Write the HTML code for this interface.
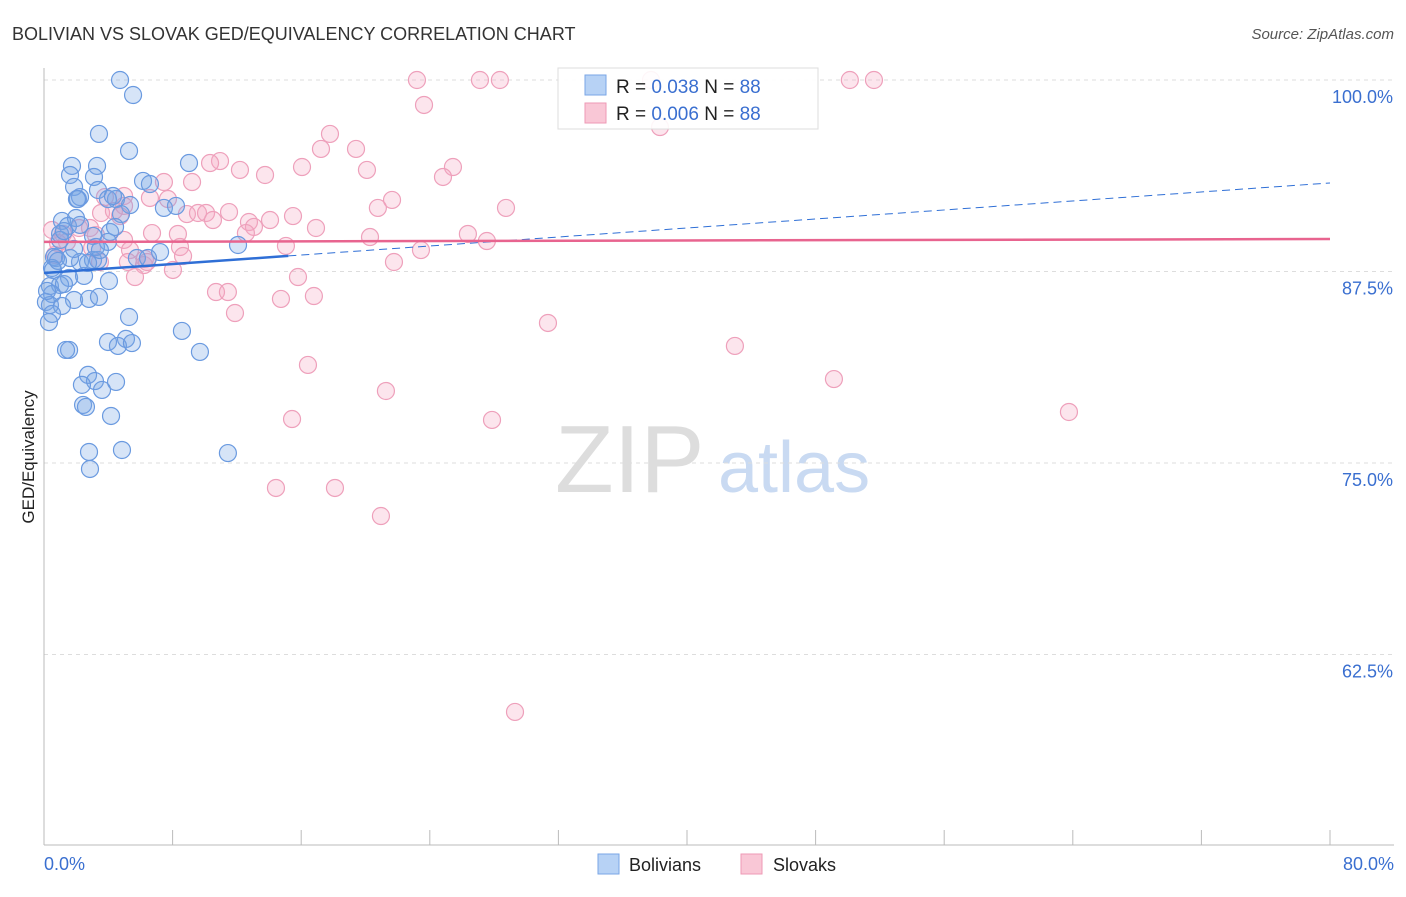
<!DOCTYPE html>
<html><head><meta charset="utf-8"><style>
body{margin:0;background:#fff;font-family:"Liberation Sans",sans-serif}
svg text{font-family:"Liberation Sans",sans-serif}
</style></head><body>
<svg id="chart" width="1406" height="892">
<text x="12" y="40" font-size="18" fill="#333">BOLIVIAN VS SLOVAK GED/EQUIVALENCY CORRELATION CHART</text>
<text x="1394" y="39" font-size="15" fill="#555" font-style="italic" text-anchor="end">Source: ZipAtlas.com</text>
<g>
<text x="555" y="492" font-size="96" fill="#ddd" font-family="Liberation Serif">ZIP</text>
<text x="718" y="492" font-size="72" fill="#c9daf2">atlas</text>
</g>
<g id="grid"></g>
<g id="axes"></g>
<g id="points"></g>
<g id="trends"></g>
<text transform="translate(34,457) rotate(-90)" font-size="17" fill="#222" text-anchor="middle">GED/Equivalency</text>
<g>
<rect x="558" y="68" width="260" height="61" fill="#fff" fill-opacity="0.9" stroke="#ddd"/>
<rect x="585" y="75" width="21" height="20" fill="#b7d2f5" stroke="#7aa6e6"/>
<text x="616" y="93" font-size="19" fill="#222">R = <tspan fill="#3a6fd0">0.038</tspan>   N = <tspan fill="#3a6fd0">88</tspan></text>
<rect x="585" y="103" width="21" height="20" fill="#f9c7d6" stroke="#ee9ab5"/>
<text x="616" y="120" font-size="19" fill="#222">R = <tspan fill="#3a6fd0">0.006</tspan>   N = <tspan fill="#3a6fd0">88</tspan></text>
</g>
<g>
<rect x="598" y="854" width="21" height="20" fill="#b7d2f5" stroke="#7aa6e6"/>
<text x="629" y="871" font-size="18" fill="#222">Bolivians</text>
<rect x="741" y="854" width="21" height="20" fill="#f9c7d6" stroke="#ee9ab5"/>
<text x="773" y="871" font-size="18" fill="#222">Slovaks</text>
</g>
</svg>
<script>
const yTicks=[100,87.5,75,62.5];
const yTickLabels=["100.0%","87.5%","75.0%","62.5%"];
const xTickVals=[0,8,16,24,32,40,48,56,64,72,80];
const blueX=[4.73,5.54,3.42,5.29,1.74,3.30,9.02,1.62,3.11,1.87,6.16,6.59,3.36,2.24,2.11,4.48,5.35,7.46,8.21,1.12,1.99,1.49,2.24,3.05,1.00,4.11,3.98,12.07,7.22,0.62,0.75,2.24,3.05,3.36,5.78,6.47,0.50,1.56,2.49,4.04,0.37,1.00,1.24,0.50,0.12,0.37,1.87,2.80,3.42,1.12,0.50,0.31,5.29,8.58,3.98,5.10,4.60,1.56,1.37,9.70,2.74,3.17,2.36,4.48,3.61,2.43,2.61,4.17,2.80,4.85,11.44,2.86,1.00,1.24,1.62,2.74,0.56,0.19,3.98,4.29,4.79,5.47,0.87,1.87,3.23,3.48,4.42,2.05];
const blueY=[100,99.02,96.48,95.37,94.39,94.39,94.58,93.80,93.67,93.02,93.41,93.21,92.82,92.36,92.23,92.23,91.84,91.65,91.78,90.80,90.99,90.47,90.54,89.82,89.95,90.08,89.43,89.23,88.77,88.45,88.38,88.12,88.25,88.25,88.38,88.38,87.73,87.08,87.21,86.88,86.55,86.62,86.68,86.03,85.51,85.31,85.64,85.71,85.84,85.25,84.73,84.20,84.53,83.62,82.90,83.10,82.64,82.38,82.38,82.25,80.75,80.35,80.10,80.29,79.77,78.79,78.66,78.07,75.72,75.85,75.65,74.61,89.56,90.14,88.38,88.06,87.60,86.23,92.23,92.43,91.25,82.83,88.19,88.97,89.10,88.90,90.41,92.23];
const pinkX=[23.2,27.12,28.36,37.76,50.13,51.63,23.64,38.32,17.79,17.23,19.41,10.95,16.05,12.19,25.44,24.82,20.09,13.75,7.46,9.21,3.79,4.98,7.71,3.55,4.73,8.89,9.58,10.08,10.51,11.51,12.75,13.06,14.06,15.49,21.65,20.77,28.74,16.92,0.50,1.18,2.18,3.23,4.98,6.72,8.33,1.43,2.99,5.35,8.46,12.56,15.05,20.28,26.37,27.55,23.45,0.68,3.48,5.22,6.22,6.28,6.41,8.02,21.77,8.65,5.66,15.80,10.70,11.44,14.74,16.79,11.88,31.35,42.98,16.42,49.14,21.27,63.76,15.43,27.87,14.43,18.10,20.96,29.30,4.98,6.59,2.86,10.33,4.35,0.87];
const pinkY=[100,100,100,100,100,100,98.37,96.93,96.48,95.50,95.50,94.71,94.32,94.13,94.32,93.67,94.13,93.80,93.34,93.34,92.36,92.43,92.23,91.32,91.12,91.25,91.32,91.32,90.86,91.38,90.73,90.41,90.86,91.12,92.17,91.65,91.65,90.34,90.21,89.95,90.34,89.88,89.56,90.01,89.95,89.43,89.03,88.90,89.10,90.01,89.17,89.75,89.95,89.49,88.90,88.58,88.12,88.12,87.92,88.32,88.12,87.60,88.12,88.51,87.14,87.14,86.16,86.16,85.71,85.90,84.79,84.14,82.64,81.40,80.48,79.70,78.33,77.87,77.81,73.37,73.37,71.54,58.75,91.78,92.30,90.34,94.58,91.45,89.36];
const blueTrend=[87.4,93.28];
const blueSolidEnd=15.2;
const pinkTrend=[89.43,89.62];

const NS="http://www.w3.org/2000/svg";
const X=v=>44+v*(1286/80);
const Y=v=>80+(100-v)*15.32;
function mk(tag,attrs,parent){const e=document.createElementNS(NS,tag);for(const k in attrs)e.setAttribute(k,attrs[k]);parent.appendChild(e);return e;}
const grid=document.getElementById('grid'),axes=document.getElementById('axes'),pts=document.getElementById('points'),tr=document.getElementById('trends');
yTicks.forEach((t,i)=>{
 const l=mk('line',{x1:44,x2:1394,y1:Y(t),y2:Y(t),stroke:'#ddd','stroke-dasharray':'4,4'},grid);
 
 
 const tx=mk('text',{x:1393,y:Y(t)+23,'font-size':18,fill:'#3a6fd0','text-anchor':'end'},axes);
 tx.textContent=yTickLabels[i];
 
 
});
const ya=mk('line',{x1:44,x2:44,y1:68,y2:845,stroke:'#bbb'},axes);


const xa=mk('line',{x1:44,x2:1394,y1:845,y2:845,stroke:'#bbb'},axes);


xTickVals.forEach(v=>{
 const t=mk('line',{x1:X(v),x2:X(v),y1:830,y2:845,stroke:'#bbb'},axes);
 
 
});
const xl0=mk('text',{x:44,y:870,'font-size':18,fill:'#3a6fd0'},axes);xl0.textContent='0.0%';


const xl1=mk('text',{x:1394,y:870,'font-size':18,fill:'#3a6fd0','text-anchor':'end'},axes);xl1.textContent='80.0%';


pinkX.forEach((x,i)=>{
 const c=mk('circle',{cx:X(x),cy:Y(pinkY[i]),r:8.5,fill:'rgba(246,170,195,0.3)',stroke:'#eea0bb','stroke-width':1.2},pts);
 
 
});
blueX.forEach((x,i)=>{
 const c=mk('circle',{cx:X(x),cy:Y(blueY[i]),r:8.5,fill:'rgba(120,165,230,0.3)',stroke:'#6a9ae0','stroke-width':1.2},pts);
 
 
});
const bAt=x=>blueTrend[0]+(blueTrend[1]-blueTrend[0])*x/80;
const bs=mk('line',{x1:X(0),y1:Y(bAt(0)),x2:X(blueSolidEnd),y2:Y(bAt(blueSolidEnd)),stroke:'#2f6fd6','stroke-width':2.5},tr);


const bd=mk('line',{x1:X(blueSolidEnd),y1:Y(bAt(blueSolidEnd)),x2:X(80),y2:Y(bAt(80)),stroke:'#2f6fd6','stroke-width':1,'stroke-dasharray':'8,5'},tr);


const pl=mk('line',{x1:X(0),y1:Y(pinkTrend[0]),x2:X(80),y2:Y(pinkTrend[1]),stroke:'#e8648f','stroke-width':2.5},tr);


</script>
</body></html>
